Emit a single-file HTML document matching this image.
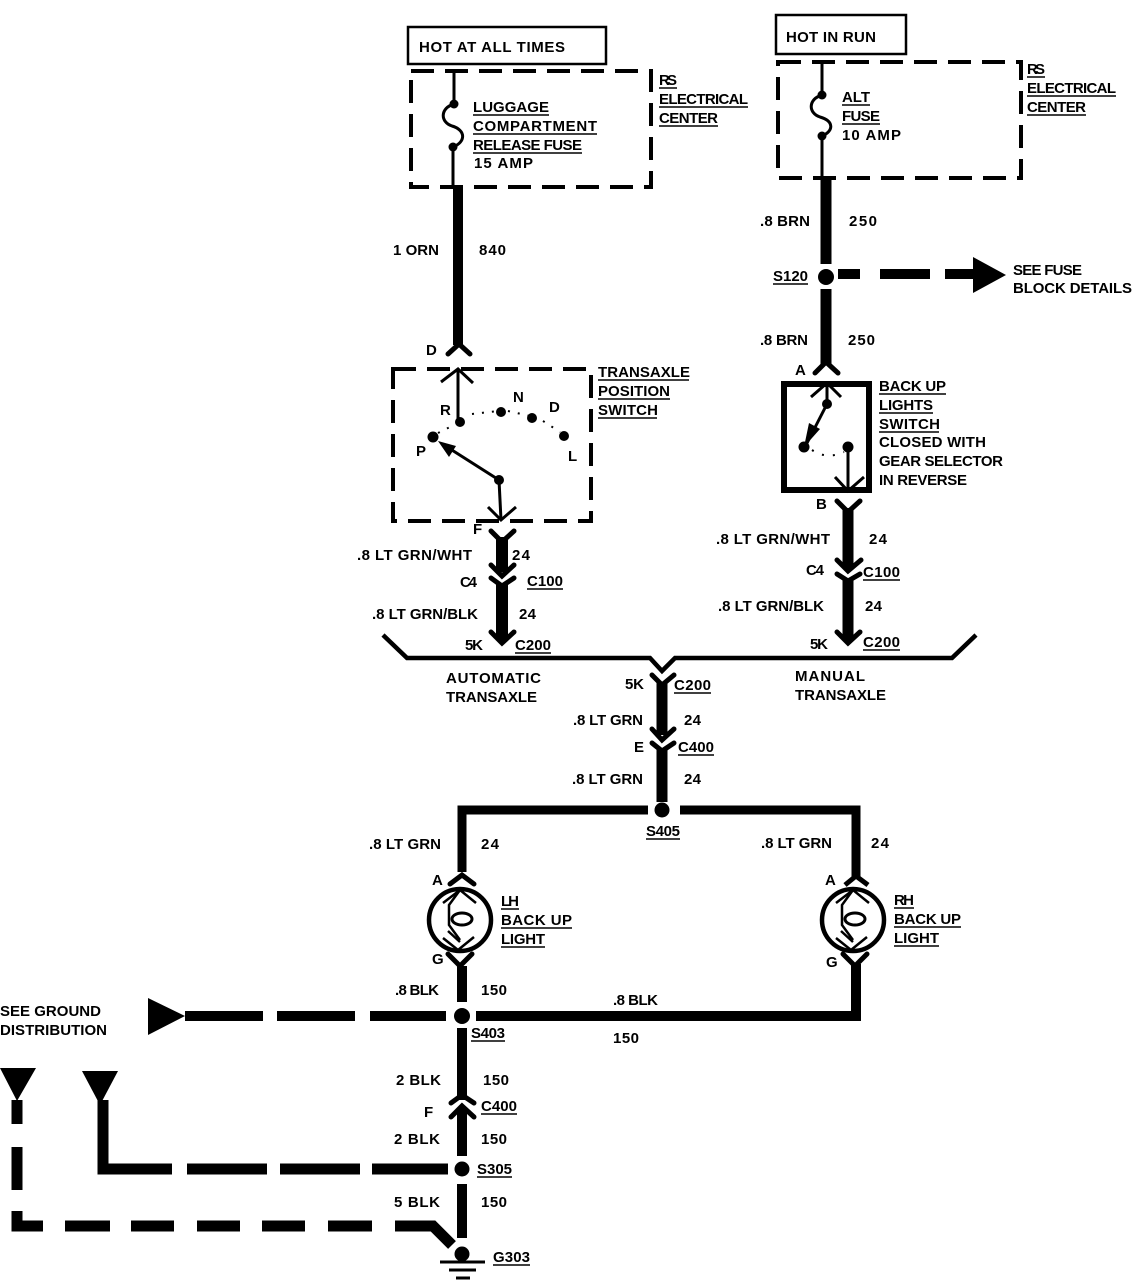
<!DOCTYPE html>
<html><head><meta charset="utf-8"><style>
html,body{margin:0;padding:0;background:#fff}
svg{display:block}
text{font-family:"Liberation Sans",sans-serif;font-weight:bold;font-size:15px;fill:#000;lengthAdjust:spacingAndGlyphs}
.u{stroke:#000;stroke-width:1.6;fill:none}
.c{stroke:#000;stroke-width:5;fill:none;stroke-linecap:round;stroke-linejoin:miter}
.w{stroke:#000;fill:none}
.d{stroke:#000;stroke-width:4;fill:none;stroke-dasharray:23 11}
</style></head><body>
<svg width="1132" height="1280" viewBox="0 0 1132 1280" xmlns="http://www.w3.org/2000/svg">
<rect width="1132" height="1280" fill="#fff"/>

<!-- top boxes -->
<rect x="408" y="27" width="198" height="37" fill="none" stroke="#000" stroke-width="2.5"/>
<rect x="776" y="15" width="130" height="39" fill="none" stroke="#000" stroke-width="2.5"/>
<rect x="411" y="71" width="240" height="116" class="d"/>
<rect x="778" y="62" width="243" height="116" class="d"/>

<!-- left fuse -->
<path class="w" stroke-width="3" d="M454 71V104C440 108 440 122 452 126C466 130 466 142 453 147V187"/>
<circle cx="454" cy="104" r="4.5"/><circle cx="453" cy="147" r="4.5"/>
<path class="w" stroke-width="10" d="M458 186V345"/>
<path class="c" d="M448 354L459 344L470 354"/>

<!-- right fuse -->
<path class="w" stroke-width="3" d="M822 62V95C808 99 808 113 820 117C834 121 834 131 822 136V178"/>
<circle cx="822" cy="95" r="4.5"/><circle cx="822" cy="136" r="4.5"/>
<path class="w" stroke-width="11" d="M826 178V264"/>
<circle cx="826" cy="277" r="8"/>
<path class="w" stroke-width="10" d="M838 274H860M880 274H930M945 274H975"/>
<polygon points="973,257 1006,275 973,293"/>
<path class="w" stroke-width="11" d="M826 289V364"/>
<path class="c" d="M815 373L826 362L838 373"/>

<!-- transaxle switch -->
<rect x="393" y="369" width="198" height="152" class="d"/>
<path class="w" stroke-width="3" d="M458 369V422"/>
<path class="w" stroke-width="3" d="M441 382L458 369L473 383"/>
<circle cx="460" cy="422" r="5"/><circle cx="501" cy="412" r="5"/><circle cx="532" cy="418" r="5"/><circle cx="564" cy="436" r="5"/><circle cx="433" cy="437" r="5.5"/>
<path class="w" stroke-width="2" stroke-dasharray="2 8" d="M438 433L456 424M472 414L498 411M508 411L530 416M543 421L560 432"/>
<circle cx="499" cy="480" r="5"/>
<path class="w" stroke-width="3" d="M499 480L444 445M499 480L501 520"/>
<polygon points="438,441 456,446 449,457"/>
<path class="w" stroke-width="3" d="M488 507L501 520L516 507"/>
<path class="c" d="M491 531L502 542L514 531"/>
<path class="w" stroke-width="12" d="M502 537V572"/>
<path class="c" d="M491 565L502 576L514 565"/>
<path class="c" d="M491 578L502 586L514 578"/>
<path class="w" stroke-width="12" d="M502 584V640"/>
<path class="c" d="M491 632L502 643L514 632"/>

<!-- back up lights switch -->
<rect x="784" y="384" width="85" height="106" fill="none" stroke="#000" stroke-width="6"/>
<path class="w" stroke-width="3" d="M827 383V405M811 397L827 383L841 397"/>
<circle cx="827" cy="404" r="5"/>
<path class="w" stroke-width="3" d="M827 404L805 447"/>
<polygon points="804,447 809,423 820,429"/>
<circle cx="804" cy="447" r="5.5"/><circle cx="848" cy="447" r="5.5"/>
<path class="w" stroke-width="2" stroke-dasharray="2 9" d="M812 450Q827 460 844 452"/>
<path class="w" stroke-width="3" d="M848 447V491M835 477L848 491L864 477"/>
<path class="c" d="M837 501L848 512L860 501"/>
<path class="w" stroke-width="11" d="M848 508V568"/>
<path class="c" d="M837 560L848 571L861 560"/>
<path class="c" d="M837 574L848 581L860 574"/>
<path class="w" stroke-width="11" d="M848 580V640"/>
<path class="c" d="M837 632L848 643L860 632"/>

<!-- bus -->
<path class="w" stroke-width="4.5" d="M383 635L407 658H650L662 671L675 658H952L976 635"/>
<path class="c" d="M652 675L662 685L674 675"/>
<path class="w" stroke-width="11" d="M662 682V735"/>
<path class="c" d="M652 729L662 740L674 729"/>
<path class="c" d="M652 743L662 751L674 743"/>
<path class="w" stroke-width="11" d="M662 750V802"/>
<circle cx="662" cy="810" r="7.5"/>
<path class="w" stroke-width="9" d="M462 872V810H648M680 810H856V878"/>
<path class="w" stroke-width="9" d="M462 806V872"/>

<!-- LH bulb -->
<path class="c" d="M450 884L462 875L474 884"/>
<circle cx="460" cy="920" r="31" fill="none" stroke="#000" stroke-width="4.5"/>
<path class="w" stroke-width="2.5" d="M443 903L460 890L476 903M460 890L449 905V925L460 940M443 938L458 950L474 937M448 931L460 942"/>
<ellipse cx="462" cy="919" rx="10" ry="6" fill="none" stroke="#000" stroke-width="3"/>
<path class="c" d="M448 954L460 966L472 954"/>
<path class="w" stroke-width="10" d="M462 966V1002"/>
<circle cx="462" cy="1016" r="8"/>

<!-- RH bulb -->
<path class="w" stroke-width="5" d="M845 885L856 876L868 885"/>
<circle cx="853" cy="920" r="31" fill="none" stroke="#000" stroke-width="4.5"/>
<path class="w" stroke-width="2.5" d="M836 903L853 890L869 903M853 890L842 905V925L853 940M836 938L851 950L867 937M841 931L853 942"/>
<ellipse cx="855" cy="919" rx="10" ry="6" fill="none" stroke="#000" stroke-width="3"/>
<path class="c" d="M843 954L855 966L867 954"/>
<path class="w" stroke-width="10" d="M856 964V1021"/>

<!-- ground distribution -->
<path class="w" stroke-width="10" d="M476 1016H861"/>
<path class="w" stroke-width="10" d="M185 1016H263M277 1016H355M370 1016H446"/>
<polygon points="148,998 185,1016 148,1035"/>
<path class="w" stroke-width="10" d="M462 1028V1100"/>
<path class="c" d="M451 1103L462 1095L474 1103"/>
<path class="c" d="M451 1117L462 1106L474 1117"/>
<path class="w" stroke-width="10" d="M462 1108V1156"/>
<circle cx="462" cy="1169" r="7.5"/>
<path class="w" stroke-width="10" d="M462 1184V1238"/>
<circle cx="462" cy="1254" r="7.5"/>
<path class="w" stroke-width="3" d="M440 1262H485"/>
<path class="w" stroke-width="3" d="M449 1270H476"/>
<path class="w" stroke-width="3" d="M456 1278H470"/>

<polygon points="82,1071 118,1071 100,1105"/>
<path class="w" stroke-width="11" d="M103 1100V1169H172M187 1169H267M280 1169H360M372 1169H448"/>
<polygon points="0,1068 36,1068 17,1101"/>
<path class="w" stroke-width="11" d="M17 1100V1124M17 1147V1190M17 1211V1226H43M65 1226H110M131 1226H174M197 1226H240M262 1226H305M328 1226H372M395 1226H433L452 1245"/>

<!-- text -->
<text x="419" y="52" textLength="146">HOT  AT ALL TIMES</text>
<text x="659" y="85" textLength="18">RS</text><path class="u" d="M659 88H677"/>
<text x="659" y="104" textLength="89">ELECTRICAL</text><path class="u" d="M659 107H748"/>
<text x="659" y="123" textLength="59">CENTER</text><path class="u" d="M659 126H718"/>
<text x="473" y="112" textLength="76">LUGGAGE</text><path class="u" d="M473 115H549"/>
<text x="473" y="131" textLength="124">COMPARTMENT</text><path class="u" d="M473 134H597"/>
<text x="473" y="150" textLength="109">RELEASE FUSE</text><path class="u" d="M473 153H582"/>
<text x="474" y="168" textLength="59">15 AMP</text>

<text x="786" y="42" textLength="90">HOT IN RUN</text>
<text x="842" y="102" textLength="28">ALT</text><path class="u" d="M842 105H870"/>
<text x="842" y="121" textLength="38">FUSE</text><path class="u" d="M842 124H880"/>
<text x="842" y="140" textLength="59">10 AMP</text>
<text x="1027" y="74" textLength="18">RS</text><path class="u" d="M1027 77H1045"/>
<text x="1027" y="93" textLength="89">ELECTRICAL</text><path class="u" d="M1027 96H1116"/>
<text x="1027" y="112" textLength="59">CENTER</text><path class="u" d="M1027 115H1086"/>

<text x="760" y="226" textLength="50">.8 BRN</text><text x="849" y="226" textLength="28">250</text>
<text x="393" y="255" textLength="46">1 ORN</text><text x="479" y="255" textLength="27">840</text>
<text x="773" y="281" textLength="35">S120</text><path class="u" d="M773 284H808"/>
<text x="1013" y="275" textLength="69">SEE FUSE</text>
<text x="1013" y="293" textLength="119">BLOCK DETAILS</text>
<text x="760" y="345" textLength="48">.8 BRN</text><text x="848" y="345" textLength="27">250</text>

<text x="426" y="355" textLength="12">D</text>
<text x="795" y="375" textLength="11">A</text>
<text x="598" y="377" textLength="92">TRANSAXLE</text><path class="u" d="M598 380H689"/>
<text x="598" y="396" textLength="72">POSITION</text><path class="u" d="M598 399H670"/>
<text x="598" y="415" textLength="60">SWITCH</text><path class="u" d="M598 418H657"/>
<text x="879" y="391" textLength="67">BACK UP</text><path class="u" d="M879 394H946"/>
<text x="879" y="410" textLength="54">LIGHTS</text><path class="u" d="M879 413H933"/>
<text x="879" y="429" textLength="61">SWITCH</text><path class="u" d="M879 432H939"/>
<text x="879" y="447" textLength="107">CLOSED WITH</text>
<text x="879" y="466" textLength="124">GEAR SELECTOR</text>
<text x="879" y="485" textLength="88">IN REVERSE</text>

<text x="440" y="415" textLength="9">R</text>
<text x="513" y="402" textLength="12">N</text>
<text x="549" y="412" textLength="12">D</text>
<text x="416" y="456" textLength="9">P</text>
<text x="568" y="461" textLength="8">L</text>
<text x="473" y="534" textLength="8">F</text>
<text x="816" y="509" textLength="10">B</text>

<text x="357" y="560" textLength="115">.8 LT GRN/WHT</text><text x="512" y="560" textLength="18">24</text>
<text x="460" y="587" textLength="17">C4</text>
<text x="527" y="586" textLength="36">C100</text><path class="u" d="M527 589H563"/>
<text x="372" y="619" textLength="106">.8 LT GRN/BLK</text><text x="519" y="619" textLength="17">24</text>
<text x="465" y="650" textLength="18">5K</text>
<text x="515" y="650" textLength="36">C200</text><path class="u" d="M515 653H551"/>

<text x="716" y="544" textLength="114">.8 LT GRN/WHT</text><text x="869" y="544" textLength="18">24</text>
<text x="806" y="575" textLength="18">C4</text>
<text x="863" y="577" textLength="37">C100</text><path class="u" d="M863 580H900"/>
<text x="718" y="611" textLength="106">.8 LT GRN/BLK</text><text x="865" y="611" textLength="17">24</text>
<text x="810" y="649" textLength="18">5K</text>
<text x="863" y="647" textLength="37">C200</text><path class="u" d="M863 650H900"/>

<text x="446" y="683" textLength="95">AUTOMATIC</text>
<text x="446" y="702" textLength="91">TRANSAXLE</text>
<text x="795" y="681" textLength="70">MANUAL</text>
<text x="795" y="700" textLength="91">TRANSAXLE</text>
<text x="625" y="689" textLength="19">5K</text>
<text x="674" y="690" textLength="37">C200</text><path class="u" d="M674 693H711"/>
<text x="573" y="725" textLength="70">.8 LT GRN</text><text x="684" y="725" textLength="17">24</text>
<text x="634" y="752" textLength="7">E</text>
<text x="678" y="752" textLength="36">C400</text><path class="u" d="M678 755H714"/>
<text x="572" y="784" textLength="71">.8 LT GRN</text><text x="684" y="784" textLength="17">24</text>
<text x="646" y="836" textLength="34">S405</text><path class="u" d="M646 839H680"/>
<text x="369" y="849" textLength="72">.8 LT GRN</text><text x="481" y="849" textLength="18">24</text>
<text x="761" y="848" textLength="71">.8 LT GRN</text><text x="871" y="848" textLength="18">24</text>

<text x="432" y="885" textLength="10">A</text>
<text x="825" y="885" textLength="10">A</text>
<text x="501" y="906" textLength="18">LH</text><path class="u" d="M501 909H519"/>
<text x="501" y="925" textLength="71">BACK  UP</text><path class="u" d="M501 928H572"/>
<text x="501" y="944" textLength="44">LIGHT</text><path class="u" d="M501 947H545"/>
<text x="894" y="905" textLength="20">RH</text><path class="u" d="M894 908H914"/>
<text x="894" y="924" textLength="67">BACK UP</text><path class="u" d="M894 927H961"/>
<text x="894" y="943" textLength="45">LIGHT</text><path class="u" d="M894 946H939"/>
<text x="432" y="964" textLength="10">G</text>
<text x="826" y="967" textLength="10">G</text>

<text x="395" y="995" textLength="44">.8 BLK</text><text x="481" y="995" textLength="26">150</text>
<text x="613" y="1005" textLength="45">.8 BLK</text>
<text x="613" y="1043" textLength="26">150</text>
<text x="0" y="1016" textLength="101">SEE GROUND</text>
<text x="0" y="1035" textLength="107">DISTRIBUTION</text>
<text x="471" y="1038" textLength="34">S403</text><path class="u" d="M471 1041H505"/>
<text x="396" y="1085" textLength="45">2  BLK</text><text x="483" y="1085" textLength="26">150</text>
<text x="424" y="1117" textLength="7">F</text>
<text x="481" y="1111" textLength="36">C400</text><path class="u" d="M481 1114H517"/>
<text x="394" y="1144" textLength="46">2  BLK</text><text x="481" y="1144" textLength="26">150</text>
<text x="477" y="1174" textLength="35">S305</text><path class="u" d="M477 1177H512"/>
<text x="394" y="1207" textLength="46">5  BLK</text><text x="481" y="1207" textLength="26">150</text>
<text x="493" y="1262" textLength="37">G303</text><path class="u" d="M493 1265H530"/>
</svg>
</body></html>
